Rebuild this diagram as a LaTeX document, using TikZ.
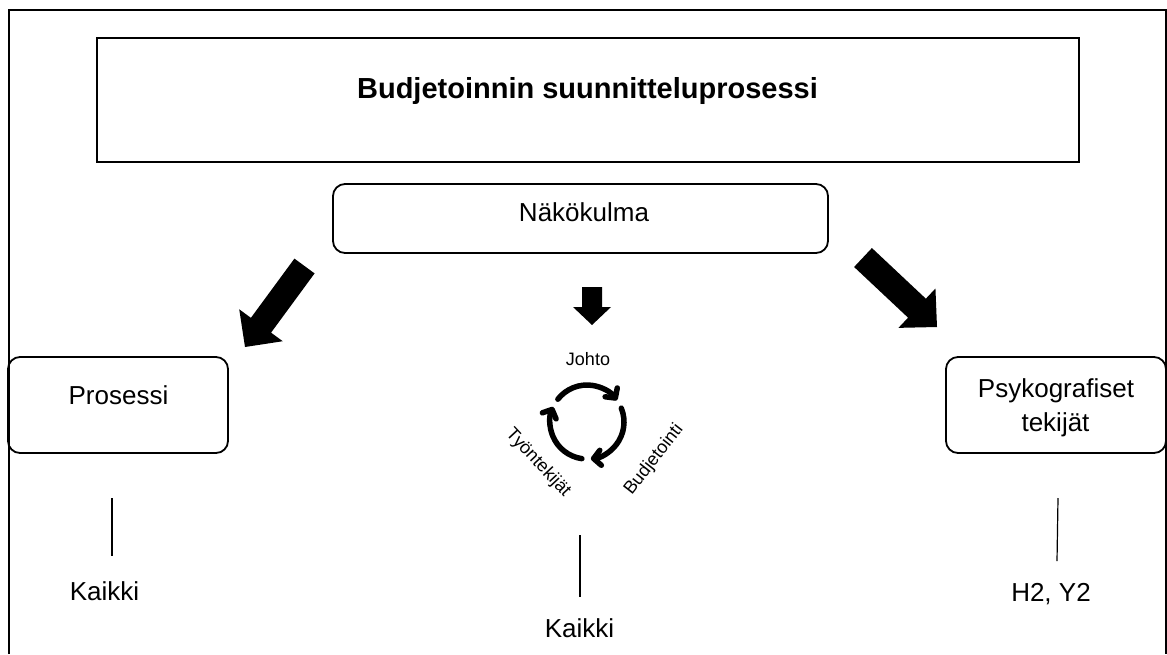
\documentclass[tikz,border=0pt]{standalone}
\usepackage{fontspec}
\setmainfont{Liberation Sans}
\usetikzlibrary{calc,arrows.meta}

% Filled block arrow: #1 tail, #2 tip, #3 half shaft width, #4 half head width, #5 head length
\newcommand\blockarrow[5]{%
  \path ($(#2)!#5!(#1)$) coordinate (hb);
  \fill ($(#1)!#3!90:(#2)$) -- ($(hb)!#3!90:(#2)$) -- ($(hb)!#4!90:(#2)$)
    -- (#2) -- ($(hb)!#4!-90:(#2)$) -- ($(hb)!#3!-90:(#2)$)
    -- ($(#1)!#3!-90:(#2)$) -- cycle;}

\begin{document}
\begin{tikzpicture}[x=1pt,y=-1pt,
  frame/.style={line width=2pt},
  titlebox/.style={draw, line width=2pt, inner sep=0pt},
  roundbox/.style={draw, line width=1.8pt, rounded corners=12pt, inner sep=0pt},
  lbl/.style={anchor=base, inner sep=0pt, font=\fontsize{26}{31}\selectfont},
  small/.style={inner sep=0pt, font=\fontsize{18}{21}\selectfont},
  stem/.style={line width=1.2pt},
  cyc/.style={line width=5.5pt, line cap=round, -{Straight Barb[length=7pt,width=15pt,round]}}
]
\useasboundingbox (0,0) rectangle (1167,654);

% outer frame (open at the bottom)
\draw[frame] (9,654) -- (9,10) -- (1166,10) -- (1166,654);

% boxes
\node[titlebox, minimum width=982pt, minimum height=124pt] (title) at (588,100) {};
\node[roundbox, minimum width=495pt, minimum height=69pt] (view) at (580.5,218.5) {};
\node[roundbox, minimum width=220pt, minimum height=96pt] (proc) at (118,405) {};
\node[roundbox, minimum width=220pt, minimum height=96pt] (psy) at (1056,405) {};

% box texts
\node[lbl, font=\bfseries\fontsize{29}{34}\selectfont] (title-t) at (587.5,98) {Budjetoinnin suunnitteluprosessi};
\node[lbl] (view-t) at (584,221) {Näkökulma};
\node[lbl] (proc-t) at (118.5,404) {Prosessi};
\node[lbl] (psy-t1) at (1056,397) {Psykografiset};
\node[lbl] (psy-t2) at (1055.5,431) {tekijät};

% block arrows
\coordinate (la-tail) at (304.5,266);
\coordinate (la-tip) at (245,347);
\blockarrow{la-tail}{la-tip}{12.5pt}{27pt}{27pt}
\coordinate (ra-tail) at (863,257.5);
\coordinate (ra-tip) at (937,327);
\blockarrow{ra-tail}{ra-tip}{13pt}{27pt}{27.5pt}
\coordinate (ca-tail) at (592,287);
\coordinate (ca-tip) at (592,325);
\blockarrow{ca-tail}{ca-tip}{10pt}{19pt}{18pt}

% cycle icon
\coordinate (cyc) at (587,422);
\draw[cyc] ([shift={(cyc)}]-142:37) arc[start angle=-142, end angle=-36, radius=37];
\draw[cyc] ([shift={(cyc)}]-22:37) arc[start angle=-22, end angle=84, radius=37];
\draw[cyc] ([shift={(cyc)}]98:37) arc[start angle=98, end angle=204, radius=37];
\node[small, anchor=base] (johto) at (588,365) {Johto};
\node[small, rotate=52] (budj) at (654,460) {Budjetointi};
\node[small, rotate=-47] (tyon) at (538,463) {Työntekijät};

% stems and bottom labels
\coordinate (s1a) at (112,498); \coordinate (s1b) at (112,556);
\coordinate (s2a) at (580,535); \coordinate (s2b) at (580,597);
\coordinate (s3a) at (1058,498); \coordinate (s3b) at (1057,561);
\draw[stem] (s1a) -- (s1b);
\draw[stem] (s2a) -- (s2b);
\draw[stem] (s3a) -- (s3b);
\node[lbl] (k1) at (104.5,600) {Kaikki};
\node[lbl] (k2) at (579.5,637) {Kaikki};
\node[lbl] (hy) at (1051,601) {H2, Y2};
\end{tikzpicture}
\end{document}
